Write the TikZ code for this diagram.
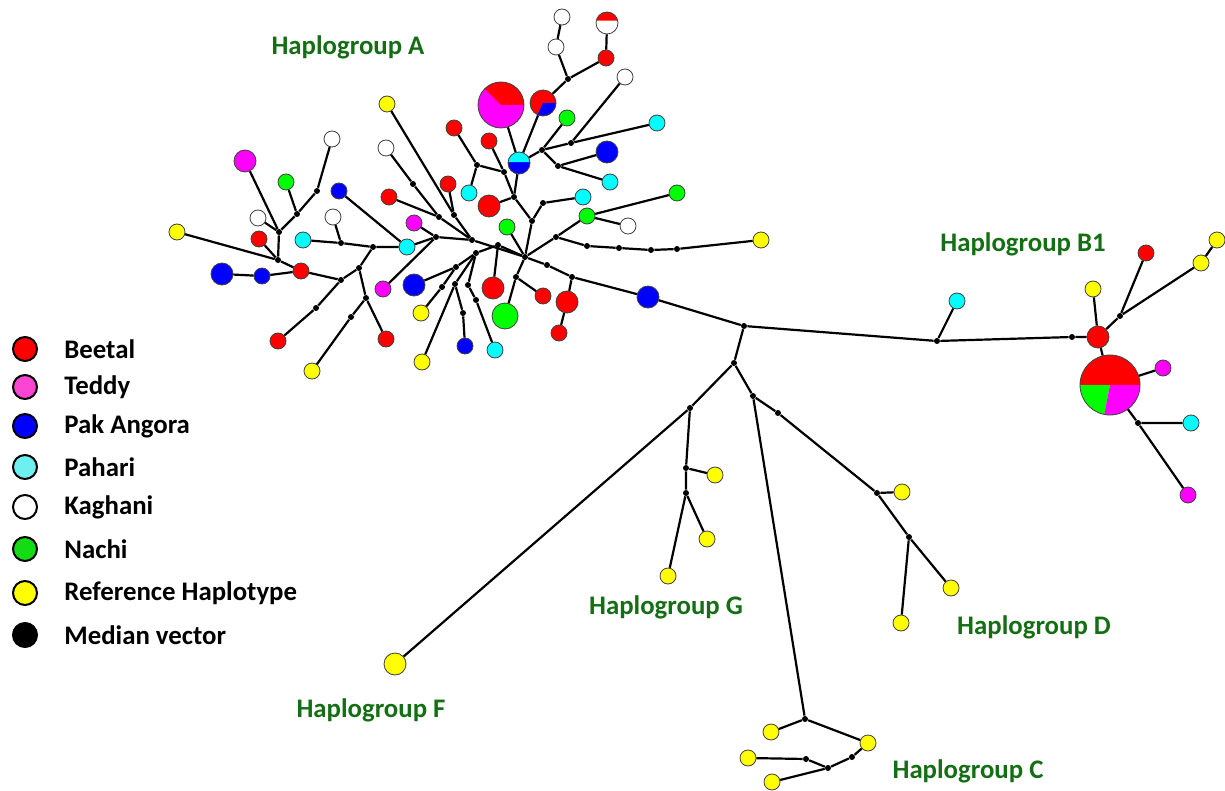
\documentclass[tikz,border=0pt]{standalone}
\usepackage{fontspec}
\setmainfont{Carlito}
\usepackage{tikz}
\definecolor{hapgreen}{RGB}{20,110,20}
\definecolor{hapred}{RGB}{255,0,0}
\definecolor{hapmag}{RGB}{255,0,255}
\definecolor{hapblue}{RGB}{0,0,255}
\definecolor{hapcyan}{RGB}{0,255,255}
\definecolor{hapnachi}{RGB}{0,255,0}
\definecolor{hapyellow}{RGB}{255,255,0}
\definecolor{legteddy}{RGB}{250,70,210}
\definecolor{legpahari}{RGB}{110,240,240}
\definecolor{legnachi}{RGB}{20,220,20}

\begin{document}
\begin{tikzpicture}[x=0.5pt,y=-0.5pt,
  hap/.style={circle,draw=black!75,line width=0.4pt,inner sep=0pt,minimum size=8pt},
  beetal/.style={hap,fill=hapred},
  teddy/.style={hap,fill=hapmag},
  angora/.style={hap,fill=hapblue},
  pahari/.style={hap,fill=hapcyan},
  kaghani/.style={hap,fill=white},
  nachi/.style={hap,fill=hapnachi},
  refhap/.style={hap,fill=hapyellow},
  mv/.style={circle,fill=black,inner sep=0pt,minimum size=3pt},
  mid/.style={minimum size=11pt},
  large/.style={minimum size=13pt},
  branch/.style={line width=1.1pt},
  hlabel/.style={text=hapgreen,font=\fontsize{13.4}{16}\selectfont\bfseries},
  legdot/.style={circle,draw=black,line width=1pt,inner sep=0pt,minimum size=12pt},
  legtext/.style={anchor=west,inner sep=0pt,font=\fontsize{13.4}{16}\selectfont\bfseries}]
\useasboundingbox (0,0) rectangle (1225,791);

% Legend
\node[legdot,fill=hapred] (lgBeetal) at (25,349) {};
\node[legtext] (ltBeetal) at (64,349) {Beetal};
\node[legdot,fill=legteddy] (lgTeddy) at (25,387) {};
\node[legtext] (ltTeddy) at (64,387) {Teddy};
\node[legdot,fill=hapblue] (lgAngora) at (25,426) {};
\node[legtext] (ltAngora) at (64,426) {Pak Angora};
\node[legdot,fill=legpahari] (lgPahari) at (25,467) {};
\node[legtext] (ltPahari) at (64,467) {Pahari};
\node[legdot,fill=white] (lgKaghani) at (25,507) {};
\node[legtext] (ltKaghani) at (64,507) {Kaghani};
\node[legdot,fill=legnachi] (lgNachi) at (25,549) {};
\node[legtext] (ltNachi) at (64,549) {Nachi};
\node[legdot,fill=hapyellow] (lgRef) at (25,593) {};
\node[legtext] (ltRef) at (64,593) {Reference Haplotype};
\node[legdot,fill=black] (lgMedian) at (25,635) {};
\node[legtext] (ltMedian) at (64,635) {Median vector};

% Haplogroup names
\node[hlabel] (labA) at (348,47) {Haplogroup A};
\node[hlabel] (labB) at (1023,244) {Haplogroup B1};
\node[hlabel] (labG) at (666,607) {Haplogroup G};
\node[hlabel] (labD) at (1034,627) {Haplogroup D};
\node[hlabel] (labF) at (371,710) {Haplogroup F};
\node[hlabel] (labC) at (968,771) {Haplogroup C};

% Shared haplotypes (pie charts)
\coordinate (cA) at (501,105);
\fill[hapmag] (cA) circle[radius=11.5pt];
\fill[hapred] (cA) -- ++(0:11.5pt) arc[start angle=0,end angle=135,radius=11.5pt] -- cycle;
\node[hap,minimum size=23pt] (pA) at (cA) {};
\coordinate (cRB) at (543,103);
\fill[hapred] (cRB) circle[radius=6.5pt];
\fill[hapblue] (cRB) -- ++(-115:6.5pt) arc[start angle=-115,end angle=0,radius=6.5pt] -- cycle;
\node[hap,minimum size=13pt] (pRB) at (cRB) {};
\coordinate (cCB) at (519,163);
\fill[hapblue] (cCB) circle[radius=5.5pt];
\fill[hapcyan] (cCB) ++(5:5.5pt) arc[start angle=5,end angle=175,radius=5.5pt] -- cycle;
\node[hap,mid] (pCB) at (cCB) {};
\coordinate (cRW) at (607,23);
\fill[white] (cRW) circle[radius=5.5pt];
\fill[hapred] (cRW) ++(12:5.5pt) arc[start angle=12,end angle=168,radius=5.5pt] -- cycle;
\node[hap,mid] (pRW) at (cRW) {};
\coordinate (cB) at (1110,385);
\fill[hapred] (cB) -- ++(0:15pt) arc[start angle=0,end angle=180,radius=15pt] -- cycle;
\fill[hapnachi] (cB) -- ++(180:15pt) arc[start angle=180,end angle=259,radius=15pt] -- cycle;
\fill[hapmag] (cB) -- ++(259:15pt) arc[start angle=259,end angle=360,radius=15pt] -- cycle;
\node[hap,minimum size=30pt] (pB) at (cB) {};

% Haplogroup A, left side
\node[teddy,mid] (teA1) at (245,161) {};
\node[kaghani] (kaA1) at (258,218) {};
\node[beetal] (beA1) at (259,239) {};
\node[nachi] (naA1) at (286,182) {};
\node[kaghani] (kaA2) at (332,139) {};
\node[mv] (m1) at (279,232) {};
\node[mv] (m2) at (297,214) {};
\node[mv] (m3) at (317,191) {};
\node[mv] (m4) at (278,260) {};
\node[refhap] (reA1) at (177,232) {};
\node[beetal] (beA2) at (301,271) {};
\node[angora,mid] (anA1) at (222,274) {};
\node[angora] (anA2) at (262,276) {};
\node[mv] (m5) at (341,280) {};
\node[mv] (m6) at (359,268) {};
\node[mv] (m7) at (373,247) {};
\node[mv] (m8) at (366,298) {};
\node[mv] (m9) at (316,308) {};
\node[mv] (m10) at (351,317) {};
\node[beetal] (beA3) at (278,341) {};
\node[beetal] (beA4) at (386,339) {};
\node[refhap] (reA2) at (312,371) {};
\node[pahari] (paA1) at (303,240) {};
\node[kaghani] (kaA3) at (333,217) {};
\node[mv] (m11) at (341,243) {};
\node[pahari] (paA2) at (407,247) {};
\node[angora] (anA3) at (339,191) {};
\node[mv] (m12) at (436,237) {};
\node[teddy] (teA2) at (383,289) {};
\node[teddy] (teA3) at (414,223) {};
\draw[branch] (teA1) -- (m1);
\draw[branch] (kaA1) -- (m1);
\draw[branch] (kaA2) -- (m3) -- (m2) -- (m1) -- (m4);
\draw[branch] (naA1) -- (m2);
\draw[branch] (reA1) -- (m4);
\draw[branch] (beA1) -- (m4) -- (beA2);
\draw[branch] (anA1) -- (anA2) -- (beA2) -- (m5) -- (m6) -- (m7) -- (paA2);
\draw[branch] (m5) -- (m9) -- (beA3);
\draw[branch] (m6) -- (m8) -- (beA4);
\draw[branch] (m8) -- (m10) -- (reA2);
\draw[branch] (paA1) -- (m11) -- (m7);
\draw[branch] (kaA3) -- (m11);
\draw[branch] (anA3) -- (paA2) -- (m12);
\draw[branch] (teA2) -- (m12);
\draw[branch] (teA3) -- (m12);

% Haplogroup A, upper left branches
\node[refhap] (reA3) at (387,104) {};
\node[beetal] (beA5) at (448,184) {};
\node[kaghani] (kaA4) at (386,148) {};
\node[beetal] (beA6) at (389,197) {};
\node[mv] (m13) at (454,215) {};
\node[mv] (m14) at (413,184) {};
\node[mv] (m15) at (439,217) {};
\node[mv] (m16) at (472,240) {};
\node[mv] (hub) at (525,257) {};
\draw[branch] (reA3) -- (m13) -- (m16);
\draw[branch] (beA5) -- (m13);
\draw[branch] (kaA4) -- (m14) -- (m15) -- (m16);
\draw[branch] (beA6) -- (m15);
\draw[branch] (m12) -- (m16) -- (hub);

% Haplogroup A, upper middle
\node[beetal] (beA7) at (454,128) {};
\node[beetal] (beA8) at (489,141) {};
\node[mv] (m17) at (477,165) {};
\node[mv] (m18) at (504,172) {};
\node[mv] (m19) at (514,197) {};
\node[pahari] (paA3) at (469,193) {};
\node[beetal,mid] (beA9) at (489,206) {};
\node[mv] (m20) at (532,221) {};
\node[mv] (m21) at (543,203) {};
\node[pahari] (paA4) at (583,197) {};
\node[nachi] (naA2) at (507,227) {};
\draw[branch] (beA7) -- (m17) -- (m18) -- (m19);
\draw[branch] (m17) -- (paA3);
\draw[branch] (beA8) -- (m18);
\draw[branch] (pA) -- (pCB);
\draw[branch] (pRB) -- (pCB) -- (m19);
\draw[branch] (beA9) -- (m19) -- (m20) -- (hub);
\draw[branch] (paA4) -- (m21) -- (m20);
\draw[branch] (naA2) -- (hub);

% Haplogroup A, top
\node[mv] (h2) at (542,150) {};
\node[nachi] (naA5) at (567,118) {};
\node[mv] (m27) at (571,143) {};
\node[kaghani] (kaA6) at (625,77) {};
\node[pahari] (paA5) at (657,123) {};
\node[mv] (m28) at (558,166) {};
\node[angora,mid] (anA4) at (607,152) {};
\node[pahari] (paA6) at (610,182) {};
\node[mv] (m29) at (568,79) {};
\node[kaghani] (kaA7) at (556,47) {};
\node[kaghani] (kaA8) at (562,17) {};
\node[beetal] (beA10) at (606,58) {};
\draw[branch] (naA5) -- (h2) -- (pCB);
\draw[branch] (kaA6) -- (m27) -- (h2);
\draw[branch] (paA5) -- (m27);
\draw[branch] (h2) -- (m28) -- (anA4);
\draw[branch] (m28) -- (paA6);
\draw[branch] (pRB) -- (m29) -- (kaA7) -- (kaA8);
\draw[branch] (m29) -- (beA10) -- (pRW);

% Haplogroup A, right of the hub
\node[mv] (m22) at (556,237) {};
\node[nachi] (naA3) at (587,216) {};
\node[nachi] (naA4) at (677,193) {};
\node[kaghani] (kaA5) at (628,226) {};
\node[mv] (m23) at (587,246) {};
\node[mv] (m24) at (619,248) {};
\node[mv] (m25) at (651,250) {};
\node[mv] (m26) at (677,249) {};
\node[refhap] (reA4) at (761,240) {};
\draw[branch] (hub) -- (m22) -- (naA3) -- (naA4);
\draw[branch] (naA3) -- (kaA5);
\draw[branch] (m22) -- (m23) -- (m24) -- (m25) -- (m26) -- (reA4);

% Haplogroup A, below the hub
\node[mv] (m30) at (498,245) {};
\node[beetal,mid] (beA11) at (493,288) {};
\node[mv] (m31) at (476,253) {};
\node[mv] (m32) at (456,267) {};
\node[angora,mid] (anA5) at (414,285) {};
\node[mv] (m33) at (442,287) {};
\node[refhap] (reA5) at (421,313) {};
\node[mv] (m34) at (455,284) {};
\node[mv] (m35) at (463,313) {};
\node[angora] (anA6) at (465,346) {};
\node[refhap] (reA6) at (422,362) {};
\node[mv] (m36) at (468,285) {};
\node[mv] (m37) at (476,300) {};
\node[pahari] (paA7) at (495,350) {};
\node[mv] (m38) at (516,277) {};
\node[beetal] (beA12) at (543,296) {};
\node[nachi,large] (naA6) at (505,316) {};
\node[mv] (m39) at (547,265) {};
\node[mv] (m40) at (572,277) {};
\node[angora,mid] (anA7) at (648,297) {};
\node[beetal,mid] (beA13) at (567,302) {};
\node[beetal] (beA14) at (559,333) {};
\draw[branch] (hub) -- (m30) -- (m31);
\draw[branch] (beA11) -- (m30);
\draw[branch] (m31) -- (m32) -- (anA5);
\draw[branch] (m32) -- (m33) -- (reA5);
\draw[branch] (m31) -- (m34) -- (m35) -- (anA6);
\draw[branch] (m34) -- (reA6);
\draw[branch] (m31) -- (m36) -- (m37) -- (paA7);
\draw[branch] (hub) -- (m38) -- (beA12);
\draw[branch] (m38) -- (naA6);
\draw[branch] (hub) -- (m39) -- (m40) -- (anA7);
\draw[branch] (beA14) -- (beA13) -- (m40);

% Haplogroup B1
\node[mv] (m41) at (744,326) {};
\node[mv] (m42) at (937,341) {};
\node[mv] (m43) at (1072,337) {};
\node[beetal,mid] (beB1) at (1098,337) {};
\node[pahari] (paB1) at (957,301) {};
\node[refhap] (reB1) at (1093,289) {};
\node[mv] (m44) at (1120,316) {};
\node[beetal] (beB2) at (1146,253) {};
\node[refhap] (reB2) at (1201,263) {};
\node[refhap] (reB3) at (1217,240) {};
\node[teddy] (teB1) at (1163,368) {};
\node[mv] (m45) at (1138,423) {};
\node[pahari] (paB2) at (1191,423) {};
\node[teddy] (teB2) at (1188,495) {};
\draw[branch] (anA7) -- (m41) -- (m42) -- (m43) -- (beB1);
\draw[branch] (paB1) -- (m42);
\draw[branch] (reB1) -- (beB1);
\draw[branch] (beB1) -- (m44) -- (beB2);
\draw[branch] (m44) -- (reB2) -- (reB3);
\draw[branch] (beB1) -- (pB) -- (teB1);
\draw[branch] (pB) -- (m45) -- (paB2);
\draw[branch] (m45) -- (teB2);

% Haplogroups F and G
\node[mv] (m46) at (734,363) {};
\node[mv] (m47) at (690,408) {};
\node[refhap,mid] (reF) at (395,664) {};
\node[mv] (m48) at (686,468) {};
\node[refhap] (reG1) at (715,475) {};
\node[mv] (m49) at (686,493) {};
\node[refhap] (reG2) at (707,539) {};
\node[refhap] (reG3) at (668,576) {};
\draw[branch] (m41) -- (m46) -- (m47) -- (reF);
\draw[branch] (m47) -- (m48) -- (reG1);
\draw[branch] (m48) -- (m49) -- (reG2);
\draw[branch] (m49) -- (reG3);

% Haplogroups C and D
\node[mv] (m50) at (753,396) {};
\node[mv] (m51) at (805,719) {};
\node[refhap] (reC1) at (771,732) {};
\node[refhap] (reC2) at (868,743) {};
\node[mv] (m52) at (852,757) {};
\node[mv] (m53) at (828,768) {};
\node[refhap] (reC3) at (772,782) {};
\node[mv] (m54) at (806,759) {};
\node[refhap] (reC4) at (748,758) {};
\node[mv] (m55) at (778,413) {};
\node[mv] (m56) at (877,493) {};
\node[refhap] (reD1) at (902,492) {};
\node[mv] (m57) at (909,537) {};
\node[refhap] (reD2) at (951,588) {};
\node[refhap] (reD3) at (901,623) {};
\draw[branch] (m46) -- (m50) -- (m51) -- (reC1);
\draw[branch] (m51) -- (reC2) -- (m52) -- (m53) -- (reC3);
\draw[branch] (m53) -- (m54) -- (reC4);
\draw[branch] (m50) -- (m55) -- (m56) -- (reD1);
\draw[branch] (m56) -- (m57) -- (reD2);
\draw[branch] (m57) -- (reD3);
\end{tikzpicture}
\end{document}
